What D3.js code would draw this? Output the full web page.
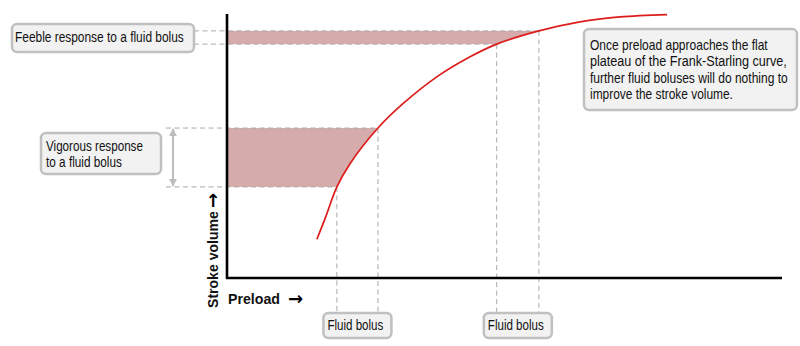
<!DOCTYPE html>
<html>
<head>
<meta charset="utf-8">
<script src="https://cdn.jsdelivr.net/npm/d3@7"></script>
<style>
  body { margin: 0; background: #fff; }
  svg { display: block; font-family: "Liberation Sans", Arial, sans-serif; }
</style>
</head>
<body>
<div id="chart"></div>
<script>
// Frank-Starling curve (preload, stroke volume; 0-100 units)
var preload = [16.2, 17.7, 19.8, 22.2, 27.2, 31.8, 37.8, 43.8, 48.6, 56.2, 63.6, 70.8, 79.3];
var strokeVolume = [14.7, 22.7, 34.5, 43.4, 56.8, 66.2, 76.2, 83.8, 88.6, 93.6, 97.0, 98.9, 99.8];

// the two fluid boluses: preload before/after, stroke volume before/after
var bolusNames = ["Vigorous", "Feeble"];
var bolusPreload = [[19.8, 27.2], [48.6, 56.2]];
var bolusSV = [[34.5, 56.8], [88.6, 93.6]];

var width = 800, height = 346;

var x = d3.scaleLinear().domain([0, 100]).range([227, 782]);
var y = d3.scaleLinear().domain([0, 100]).range([278, 14]);

var svg = d3.select("#chart").append("svg")
    .attr("width", width)
    .attr("height", height);

var pts = preload.map(function(p, i) { return [p, strokeVolume[i]]; });

var line = d3.line()
    .x(function(d) { return x(d[0]); })
    .y(function(d) { return y(d[1]); })
    .curve(d3.curveCatmullRom.alpha(0.5));

// clip = everything left of (above) the curve
var last = pts[pts.length - 1], first = pts[0];
svg.append("clipPath").attr("id", "leftOfCurve")
  .append("path")
    .attr("d", line(pts) +
      "L" + x(last[0]) + "," + (y(100) - 20) +
      "L" + (x(0) - 5) + "," + (y(100) - 20) +
      "L" + (x(0) - 5) + "," + y(0) +
      "L" + x(first[0]) + "," + y(0) + "Z");

var dash = "5,3.5";
var grey = "#aaaaaa";

// shaded bands
bolusNames.forEach(function(name, i) {
  svg.append("rect")
      .attr("x", x(0))
      .attr("y", y(bolusSV[i][1]))
      .attr("width", x(bolusPreload[i][1]) - x(0))
      .attr("height", y(bolusSV[i][0]) - y(bolusSV[i][1]))
      .attr("clip-path", "url(#leftOfCurve)")
      .style("fill", "#d5abab");
});

// dashed guides
var labelRight = [166, 194];
bolusNames.forEach(function(name, i) {
  [0, 1].forEach(function(k) {
    svg.append("line")
        .attr("x1", labelRight[i]).attr("x2", x(bolusPreload[i][k]))
        .attr("y1", y(bolusSV[i][k])).attr("y2", y(bolusSV[i][k]))
        .style("stroke", grey).style("stroke-dasharray", dash).style("stroke-width", 1);
    svg.append("line")
        .attr("x1", x(bolusPreload[i][k])).attr("x2", x(bolusPreload[i][k]))
        .attr("y1", y(bolusSV[i][k])).attr("y2", 313)
        .style("stroke", grey).style("stroke-dasharray", dash).style("stroke-width", 1);
  });
});

// axes
svg.append("line")
    .attr("x1", x(0)).attr("x2", x(0)).attr("y1", y(100)).attr("y2", y(0) + 1)
    .style("stroke", "#000").style("stroke-width", 2.6);
svg.append("line")
    .attr("x1", x(0) - 1).attr("x2", x(100)).attr("y1", y(0)).attr("y2", y(0))
    .style("stroke", "#000").style("stroke-width", 2.6);

// curve
svg.append("path")
    .datum(pts)
    .attr("d", line)
    .style("fill", "none")
    .style("stroke", "#dd1c1c")
    .style("stroke-width", 1.7);

// double arrow for the vigorous response
var defs = svg.append("defs");
defs.append("marker").attr("id", "ah")
    .attr("viewBox", "0 0 10 10").attr("refX", 9).attr("refY", 5)
    .attr("markerWidth", 4).attr("markerHeight", 4)
    .attr("orient", "auto-start-reverse")
  .append("path").attr("d", "M0,0L10,5L0,10Z").style("fill", "#bdbdbd");
svg.append("line")
    .attr("x1", 173).attr("x2", 173)
    .attr("y1", y(bolusSV[0][1]) + 1).attr("y2", y(bolusSV[0][0]) - 1)
    .style("stroke", "#bdbdbd").style("stroke-width", 2)
    .attr("marker-start", "url(#ah)").attr("marker-end", "url(#ah)");

// squeeze a text horizontally to the width seen in the picture
function fitText(t, w, size, bold, pre) {
  var el = svg.append("text")
      .style("font-size", size + "px").style("fill", "#111")
      .style("font-weight", bold ? "bold" : "normal")
      .text(t);
  var natural = el.node().getComputedTextLength();
  el.attr("transform", pre + " scale(" + (w / natural) + ",1)");
  return el;
}

// annotation boxes
function box(x0, y0, w, h, lines) {
  svg.append("rect")
      .attr("x", x0).attr("y", y0).attr("width", w).attr("height", h)
      .attr("rx", 5).attr("ry", 5)
      .style("fill", "#f2f2f2").style("stroke", "#c0c0c0").style("stroke-width", 2.5);
  lines.forEach(function(l) {
    fitText(l.t, l.w, 15, false, "translate(" + l.x + "," + l.y + ")");
  });
}

box(12, 24, 182, 28, [{t: "Feeble response to a fluid bolus", x: 15, y: 42, w: 169}]);
box(41, 133, 120, 41, [
  {t: "Vigorous response", x: 46, y: 151, w: 97},
  {t: "to a fluid bolus", x: 46, y: 167, w: 76}
]);
box(584, 29, 213, 81, [
  {t: "Once preload approaches the flat", x: 590, y: 49.5, w: 178},
  {t: "plateau of the Frank-Starling curve,", x: 590, y: 66, w: 197},
  {t: "further fluid boluses will do nothing to", x: 590, y: 82.5, w: 198},
  {t: "improve the stroke volume.", x: 590, y: 99, w: 143}
]);
bolusPreload.forEach(function(p) {
  var cx = x((p[0] + p[1]) / 2);
  box(cx - 34, 313, 68, 25, [{t: "Fluid bolus", x: cx - 30, y: 330, w: 56}]);
});

// axis titles
fitText("Preload", 52, 15, true, "translate(228,304)");
svg.append("text")
    .attr("x", 288).attr("y", 305)
    .style("font-family", "DejaVu Sans").style("font-size", "18px").style("font-weight", "bold")
    .text("\u2192");
fitText("Stroke volume", 97, 15, true, "translate(218,308) rotate(-90)");
svg.append("text")
    .attr("transform", "translate(219,208) rotate(-90)")
    .style("font-family", "DejaVu Sans").style("font-size", "18px").style("font-weight", "bold")
    .text("\u2192");
</script>
</body>
</html>
